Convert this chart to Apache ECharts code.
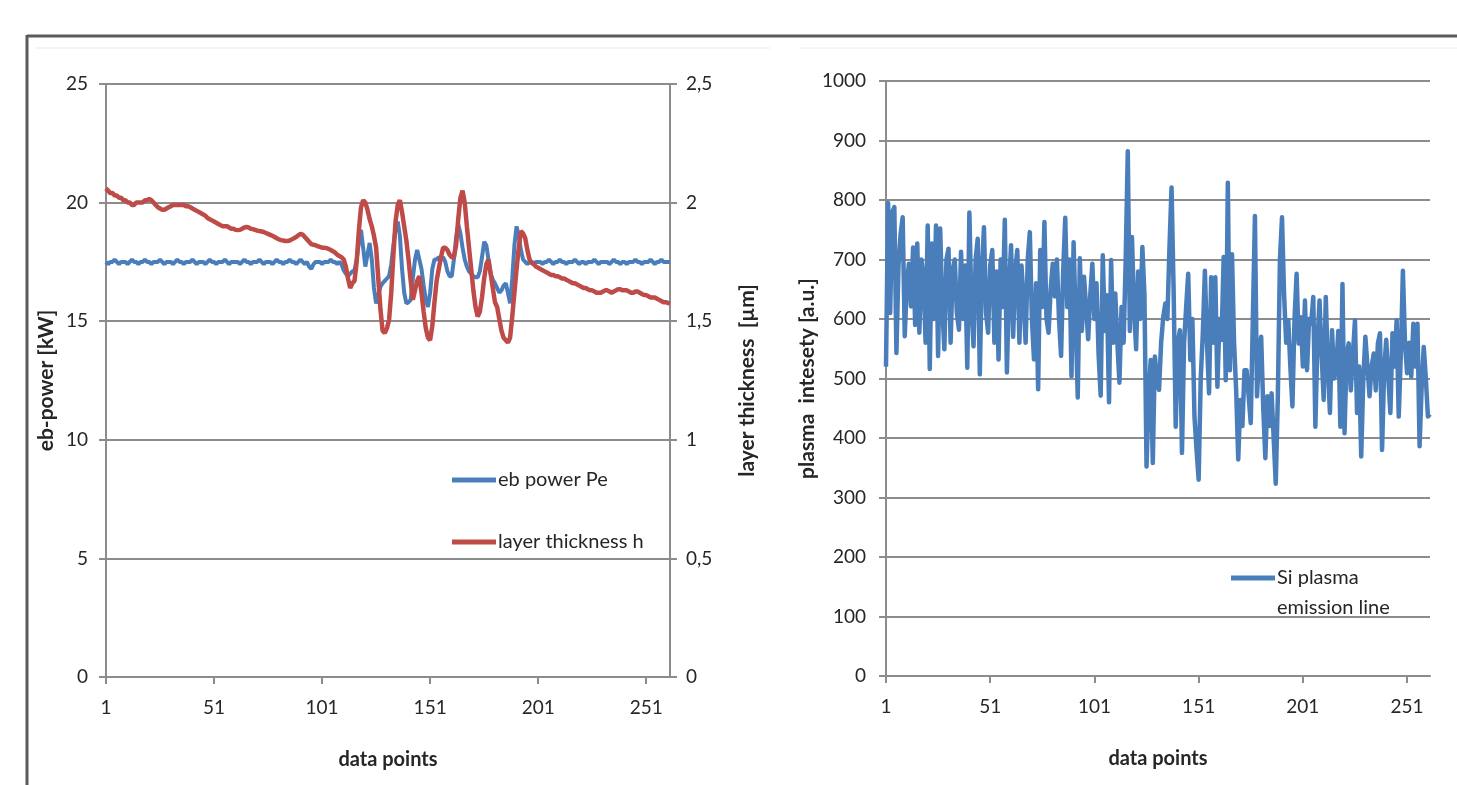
<!DOCTYPE html>
<html>
<head>
<meta charset="utf-8">
<script src="https://cdn.jsdelivr.net/npm/echarts@6/dist/echarts.min.js"></script>
<style>
  html, body { margin: 0; padding: 0; background: #fff; }
  #chart { width: 1457px; height: 785px; }
</style>
</head>
<body>
<div id="chart"></div>
<script>
// x categories: data point numbers 1..262
const pointCount = 262;
const dataPoints = Array.from({length: pointCount}, (_, i) => String(i + 1));

// eb power Pe [kW]
const ebPower = [
  17.5,17.4,17.5,17.5,17.6,17.5,17.4,17.5,17.5,17.5,
  17.4,17.5,17.6,17.5,17.5,17.4,17.5,17.5,17.6,17.5,
  17.5,17.4,17.5,17.5,17.5,17.6,17.5,17.4,17.5,17.5,
  17.5,17.4,17.5,17.6,17.5,17.5,17.4,17.5,17.5,17.5,
  17.6,17.5,17.4,17.5,17.5,17.5,17.4,17.5,17.6,17.5,
  17.5,17.4,17.5,17.5,17.5,17.6,17.5,17.4,17.5,17.5,
  17.5,17.5,17.4,17.5,17.6,17.5,17.5,17.4,17.5,17.5,
  17.5,17.6,17.5,17.4,17.5,17.5,17.5,17.4,17.5,17.6,
  17.5,17.5,17.4,17.5,17.5,17.6,17.5,17.5,17.4,17.5,
  17.6,17.5,17.4,17.5,17.3,17.2,17.4,17.5,17.5,17.5,
  17.4,17.5,17.5,17.5,17.6,17.5,17.5,17.4,17.5,17.4,
  17.15,17.0,16.9,17.0,17.1,17.15,17.6,18.3,18.85,18.1,
  17.3,17.8,18.3,17.6,16.4,15.75,16.1,16.45,16.6,16.7,
  16.8,16.9,17.4,18.2,18.9,19.2,18.6,17.2,16.2,15.75,
  15.8,15.9,16.8,17.6,18.0,17.6,17.2,16.5,15.9,15.6,
  16.2,17.2,17.6,17.6,17.7,17.6,17.7,17.5,17.1,16.9,
  16.9,17.6,18.5,19.1,18.7,18.1,17.6,17.3,17.1,17.0,
  16.9,16.85,16.85,17.1,17.7,18.35,18.2,17.6,17.0,16.75,
  16.6,16.4,16.2,16.3,16.5,16.6,16.2,15.75,16.8,18.2,
  19.0,18.6,18.0,17.6,17.5,17.4,17.5,17.5,17.45,17.5,
  17.5,17.5,17.4,17.5,17.5,17.6,17.5,17.4,17.5,17.5,
  17.6,17.5,17.5,17.4,17.5,17.5,17.5,17.6,17.5,17.4,
  17.5,17.5,17.4,17.5,17.5,17.5,17.6,17.5,17.4,17.5,
  17.5,17.5,17.5,17.4,17.5,17.6,17.5,17.5,17.4,17.5,
  17.5,17.4,17.5,17.5,17.5,17.6,17.5,17.5,17.4,17.5,
  17.5,17.5,17.6,17.5,17.4,17.5,17.5,17.6,17.5,17.5,
  17.5,17.5
];

// layer thickness h [µm]
const layerThickness = [
  2.06,2.05,2.04,2.04,2.03,2.03,2.02,2.02,2.01,2.01,
  2.00,2.00,1.99,1.99,2.00,2.00,2.00,2.00,2.01,2.01,
  2.015,2.01,2.00,1.99,1.98,1.975,1.97,1.97,1.975,1.98,
  1.985,1.99,1.99,1.99,1.99,1.99,1.99,1.985,1.985,1.98,
  1.975,1.97,1.965,1.96,1.955,1.95,1.945,1.935,1.93,1.925,
  1.92,1.915,1.91,1.905,1.90,1.90,1.90,1.895,1.89,1.89,
  1.885,1.884,1.885,1.89,1.895,1.897,1.895,1.89,1.888,1.885,
  1.882,1.88,1.878,1.876,1.872,1.868,1.864,1.86,1.855,1.85,
  1.845,1.842,1.84,1.838,1.838,1.84,1.845,1.85,1.855,1.862,
  1.868,1.865,1.855,1.845,1.835,1.825,1.822,1.82,1.816,1.813,
  1.81,1.81,1.808,1.805,1.80,1.795,1.79,1.78,1.775,1.77,
  1.76,1.73,1.68,1.64,1.66,1.67,1.75,1.88,1.98,2.01,
  2.00,1.97,1.93,1.90,1.86,1.81,1.68,1.55,1.46,1.45,
  1.47,1.505,1.62,1.78,1.92,1.99,2.01,1.96,1.90,1.84,
  1.76,1.67,1.59,1.63,1.67,1.69,1.62,1.54,1.47,1.43,
  1.42,1.48,1.58,1.67,1.72,1.77,1.81,1.81,1.80,1.78,
  1.77,1.77,1.82,1.93,2.02,2.05,2.00,1.90,1.81,1.72,
  1.63,1.56,1.52,1.54,1.60,1.68,1.74,1.76,1.70,1.64,
  1.58,1.56,1.51,1.46,1.43,1.42,1.41,1.43,1.52,1.62,
  1.72,1.81,1.88,1.87,1.85,1.80,1.76,1.745,1.74,1.73,
  1.725,1.72,1.715,1.71,1.705,1.70,1.695,1.695,1.69,1.69,
  1.685,1.68,1.68,1.675,1.67,1.665,1.66,1.66,1.655,1.65,
  1.645,1.64,1.64,1.635,1.63,1.63,1.625,1.62,1.62,1.62,
  1.625,1.63,1.63,1.625,1.62,1.625,1.63,1.635,1.635,1.63,
  1.63,1.63,1.625,1.62,1.62,1.625,1.625,1.62,1.615,1.61,
  1.61,1.605,1.60,1.60,1.60,1.595,1.59,1.585,1.58,1.58,
  1.577,1.575
];

// Si plasma emission line intensity [a.u.]
const plasmaIntensity = [
  520,795,610,780,788,543,690,743,771,571,
  660,693,621,720,590,727,577,700,671,560,
  757,516,727,600,757,538,752,620,549,700,
  718,560,682,700,610,582,713,600,690,518,
  779,620,554,700,735,507,680,754,610,577,
  690,716,560,680,532,700,620,767,510,650,
  724,570,680,716,560,690,632,560,700,746,
  600,532,660,482,716,620,763,600,577,650,
  693,638,700,600,538,680,770,620,700,504,
  729,600,468,702,580,671,620,566,640,693,
  600,660,540,471,707,580,640,460,699,560,
  643,560,493,620,560,700,882,580,738,620,
  549,680,600,721,640,352,470,531,358,537,
  500,481,560,603,626,600,720,821,648,419,
  560,581,375,559,620,676,531,600,436,380,
  330,500,576,681,560,475,670,560,670,486,
  600,565,704,497,829,514,709,560,480,364,
  464,420,514,514,470,425,600,773,470,540,
  570,450,366,470,420,475,400,323,470,700,
  771,640,560,598,520,453,600,676,559,603,
  520,631,514,600,592,637,419,560,631,540,
  464,637,520,442,581,500,514,580,419,659,
  408,540,559,480,540,598,442,520,369,500,
  570,520,470,520,542,480,559,576,380,514,
  565,500,442,576,520,598,436,540,681,560,
  509,560,503,592,520,592,386,486,553,500,
  436,440
];

const fontFamily = 'Lato, "Open Sans", sans-serif';
const gridColor = '#8c8c8c';
const labelColor = '#262626';
const tickFont = 19;

const chart = echarts.init(document.getElementById('chart'));

function catAxis(gridIndex) {
  return {
    type: 'category',
    gridIndex: gridIndex,
    data: dataPoints,
    boundaryGap: false,
    name: 'data points',
    nameLocation: 'middle',
    nameGap: 73,
    nameTextStyle: {fontFamily: fontFamily, fontWeight: 'bold', fontSize: 20, color: labelColor},
    axisLine: {lineStyle: {color: gridColor, width: 2}},
    axisTick: {show: true, interval: 49, length: 7, lineStyle: {color: gridColor, width: 2}},
    axisLabel: {interval: 49, margin: 21, fontFamily: fontFamily, fontSize: tickFont, color: labelColor},
    splitLine: {show: false}
  };
}

function valAxis(opts) {
  return Object.assign({
    type: 'value',
    nameLocation: 'middle',
    nameRotate: 90,
    nameTextStyle: {fontFamily: fontFamily, fontWeight: 'bold', fontSize: 21, color: labelColor},
    axisLine: {show: true, lineStyle: {color: gridColor, width: 2}},
    axisTick: {show: true, length: 7, lineStyle: {color: gridColor, width: 2}},
    axisLabel: {margin: 18, fontFamily: fontFamily, fontSize: tickFont, color: labelColor},
    splitLine: {show: true, lineStyle: {color: gridColor, width: 2}}
  }, opts);
}

const option = {
  backgroundColor: '#fff',
  animation: false,
  graphic: [
    {type: 'line', shape: {x1: 27, y1: 36, x2: 1457, y2: 36}, style: {stroke: '#5a5a5a', lineWidth: 3}},
    {type: 'line', shape: {x1: 27, y1: 35, x2: 27, y2: 785}, style: {stroke: '#5a5a5a', lineWidth: 3}},
    {type: 'line', shape: {x1: 35, y1: 48, x2: 770, y2: 48}, style: {stroke: '#e8e8e8', lineWidth: 1}},
    {type: 'line', shape: {x1: 800, y1: 48, x2: 1457, y2: 48}, style: {stroke: '#ececec', lineWidth: 1}}
  ],
  grid: [
    {left: 106, right: 787, top: 84, bottom: 108},
    {left: 886, right: 27, top: 81, bottom: 109}
  ],
  xAxis: [catAxis(0), catAxis(1)],
  yAxis: [
    valAxis({gridIndex: 0, position: 'left', min: 0, max: 25, interval: 5,
      name: 'eb-power [kW]', nameGap: 49}),
    valAxis({gridIndex: 0, position: 'right', min: 0, max: 2.5, interval: 0.5,
      name: 'layer thickness  [µm]', nameGap: 67,
      splitLine: {show: false},
      axisLabel: {margin: 16, fontFamily: fontFamily, fontSize: tickFont, color: labelColor,
        formatter: v => String(v).replace('.', ',')}}),
    valAxis({gridIndex: 1, position: 'left', min: 0, max: 1000, interval: 100,
      name: 'plasma  intesety [a.u.]', nameGap: 58,
      axisLabel: {margin: 20, fontFamily: fontFamily, fontSize: tickFont, color: labelColor,
        formatter: v => String(v)}})
  ],
  legend: [
    {
      data: ['eb power Pe', 'layer thickness h'],
      orient: 'vertical',
      left: 447,
      top: 465,
      itemGap: 42,
      itemWidth: 44,
      itemHeight: 5,
      icon: 'rect',
      textStyle: {fontFamily: fontFamily, fontSize: 20, color: labelColor, padding: [0, 0, 0, -3]}
    },
    {
      data: ['Si plasma emission line'],
      left: 1226,
      top: 558,
      itemWidth: 44,
      itemHeight: 35,
      // bar drawn at the top of the item box so it lines up with the first text line
      icon: 'path://M0,0H44V5H0Z M0,34.9H0.1V35H0Z',
      formatter: () => 'Si plasma\nemission line',
      textStyle: {fontFamily: fontFamily, fontSize: 20, color: labelColor, lineHeight: 30,
        padding: [0, 0, 0, -3]}
    }
  ],
  series: [
    {
      name: 'eb power Pe',
      type: 'line',
      xAxisIndex: 0,
      yAxisIndex: 0,
      data: ebPower,
      showSymbol: false,
      color: '#4a7ebb',
      lineStyle: {width: 4, color: '#4a7ebb'}
    },
    {
      name: 'layer thickness h',
      type: 'line',
      xAxisIndex: 0,
      yAxisIndex: 1,
      data: layerThickness,
      showSymbol: false,
      color: '#be4b48',
      lineStyle: {width: 4.5, color: '#be4b48'}
    },
    {
      name: 'Si plasma emission line',
      type: 'line',
      xAxisIndex: 1,
      yAxisIndex: 2,
      data: plasmaIntensity,
      showSymbol: false,
      color: '#4a7ebb',
      lineStyle: {width: 4.5, color: '#4a7ebb', join: 'round'}
    }
  ]
};

chart.setOption(option);
</script>
</body>
</html>
